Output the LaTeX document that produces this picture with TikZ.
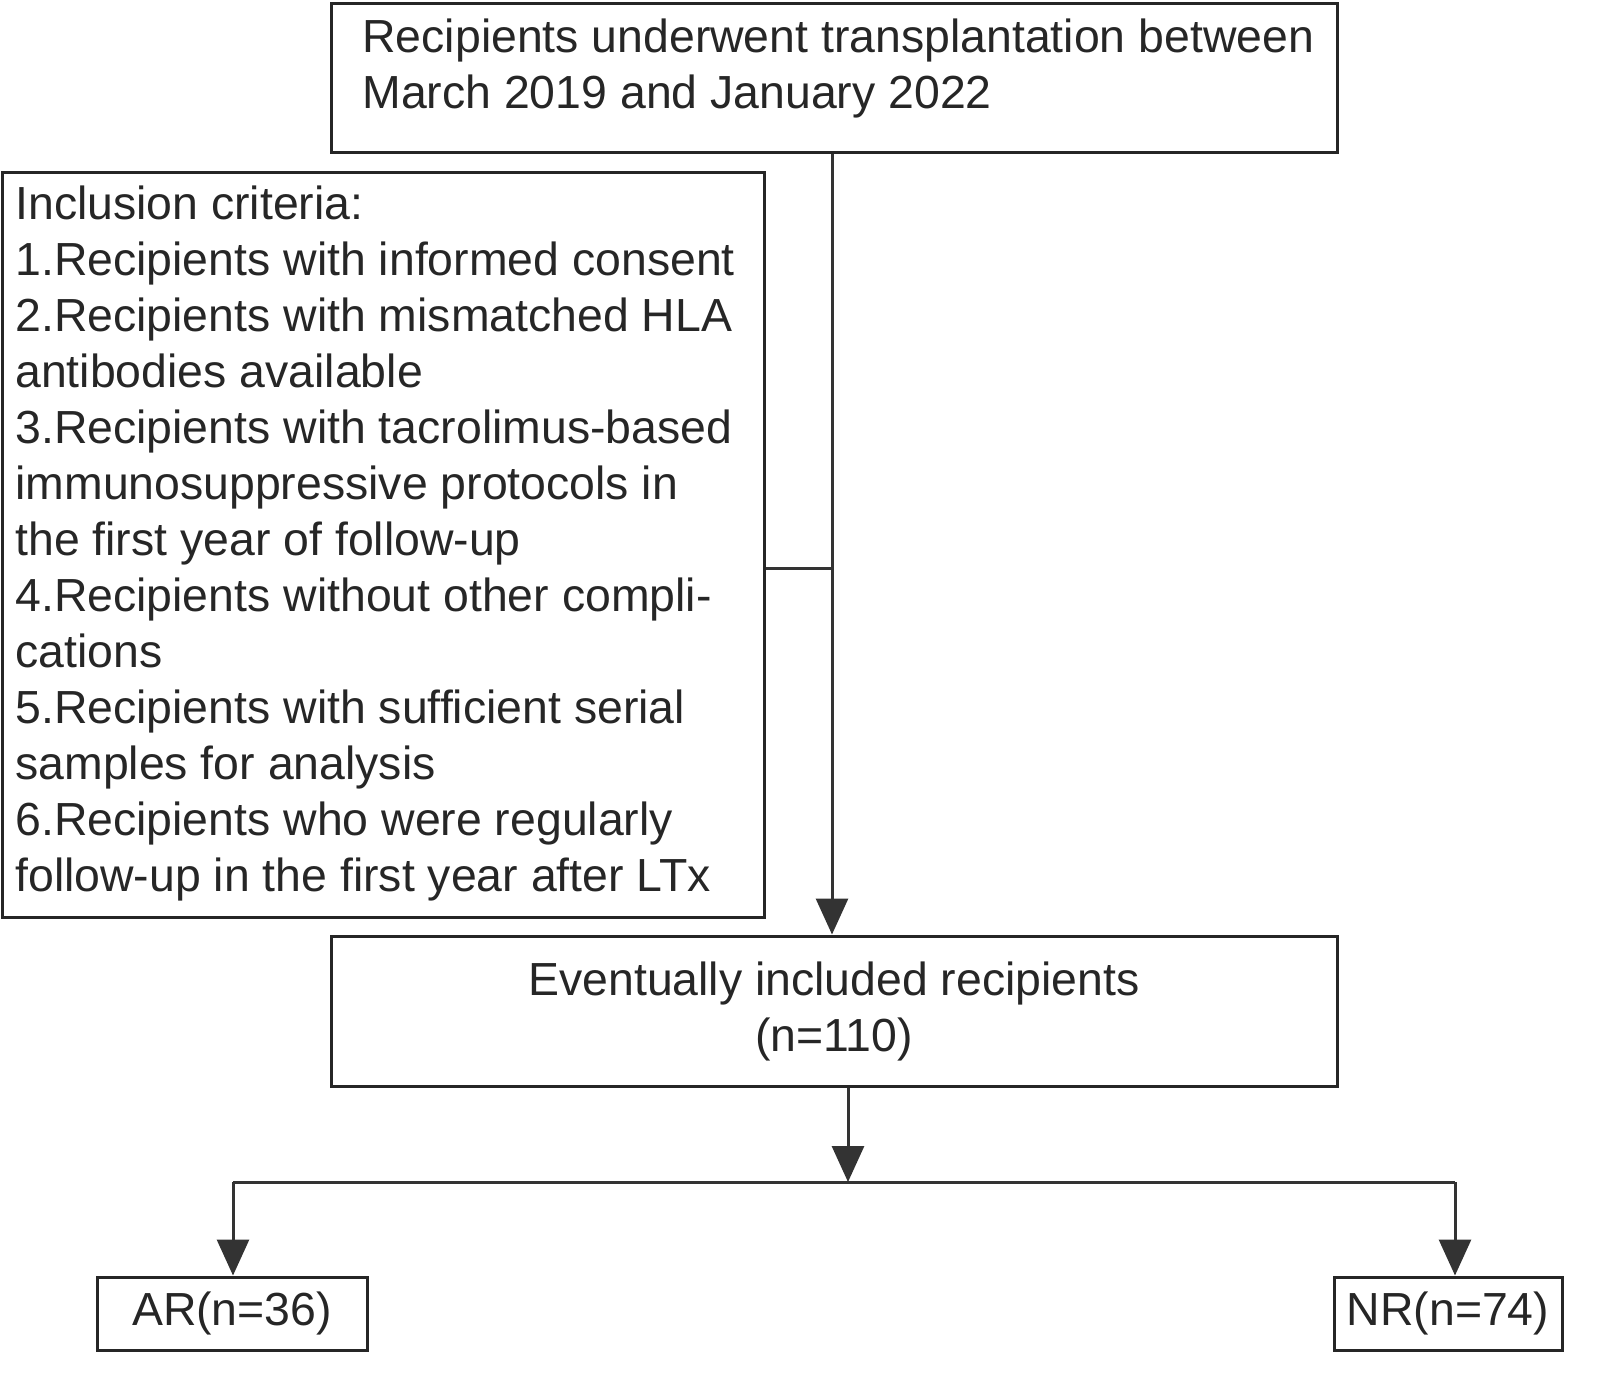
\documentclass[tikz,border=0pt]{standalone}
\usepackage{fontspec}
\setmainfont{Liberation Sans}
\usetikzlibrary{arrows.meta}
\begin{document}
\begin{tikzpicture}[x=0.5pt,y=-0.5pt,
  fnt/.style={font=\fontsize{23.2}{28}\selectfont,text=black!85},
  box/.style={draw=black!85,line width=1.5pt,inner sep=0pt},
  txt/.style={fnt,anchor=north west,align=left,inner sep=0pt},
  ln/.style={draw=black!80,line width=1.5pt},
  arr/.style={ln,-{Triangle[length=18pt,width=16pt]}}]
\useasboundingbox (0,0) rectangle (1600,1382);
\node[box,minimum width=503pt,minimum height=74.5pt] (top) at (834,77.5) {};
\node[txt] (ttop) at (362,18) {Recipients underwent transplantation between\\March 2019 and January 2022};
\node[box,minimum width=381pt,minimum height=372.5pt] (inc) at (383,544.5) {};
\node[txt] (tinc) at (15,185) {Inclusion criteria:\\1.Recipients with informed consent\\2.Recipients with mismatched HLA\\antibodies available\\3.Recipients with tacrolimus-based\\immunosuppressive protocols in\\the first year of follow-up\\4.Recipients without other compli-\\cations\\5.Recipients with sufficient serial\\samples for analysis\\6.Recipients who were regularly\\follow-up in the first year after LTx};
\node[box,fnt,minimum width=503pt,minimum height=75pt,align=center] (ev) at (834,1011) {Eventually included recipients\\(n=110)};
\node[box,fnt,minimum width=135pt,minimum height=36.5pt] (ar) at (232,1313.5) {AR(n=36)};
\node[box,fnt,minimum width=114pt,minimum height=36.5pt] (nr) at (1448,1313.5) {NR(n=74)};
\coordinate (j) at (832,568);
\coordinate (s) at (848,1182);
\draw[arr] (top.south -| j) -- (ev.north -| j);
\draw[ln] (inc.east |- j) -- (j);
\draw[arr] (ev.south -| s) -- (s);
\draw[ln] (233,1182) -- (1455,1182);
\draw[arr] (233,1182) -- (ar.north -| 233,0);
\draw[arr] (1455,1182) -- (nr.north -| 1455,0);
\end{tikzpicture}
\end{document}
